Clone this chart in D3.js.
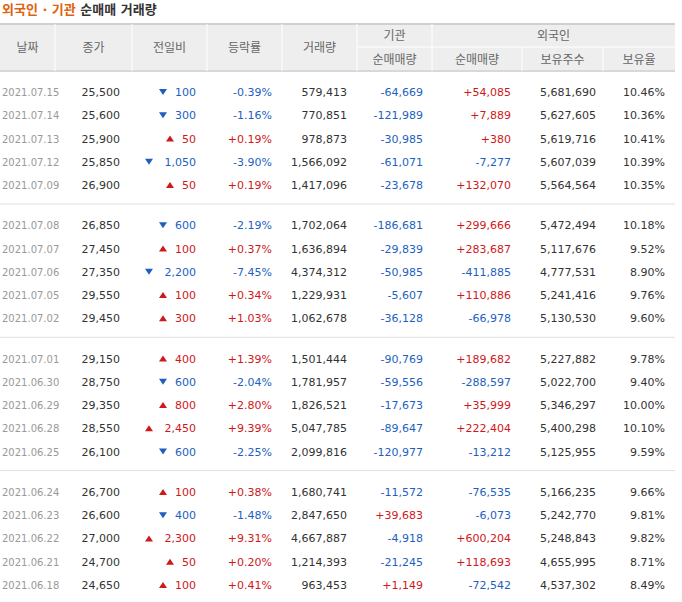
<!DOCTYPE html><html><head><meta charset="utf-8"><script src="https://cdn.jsdelivr.net/npm/d3@7"></script>
<style>body{margin:0;background:#fff}text{font-family:"DejaVu Sans","Noto Sans CJK KR",sans-serif}</style></head><body><svg id="c" width="682" height="602"></svg><script>
const dates=["2021.07.15","2021.07.14","2021.07.13","2021.07.12","2021.07.09","2021.07.08","2021.07.07","2021.07.06","2021.07.05","2021.07.02","2021.07.01","2021.06.30","2021.06.29","2021.06.28","2021.06.25","2021.06.24","2021.06.23","2021.06.22","2021.06.21","2021.06.18"];
const closes=[25500,25600,25900,25850,26900,26850,27450,27350,29550,29450,29150,28750,29350,28550,26100,26700,26600,27000,24700,24650];
const changes=[-100,-300,50,-1050,50,-600,100,-2200,100,300,400,-600,800,2450,-600,100,-400,2300,50,100];
const rates=[-0.39,-1.16,0.19,-3.90,0.19,-2.19,0.37,-7.45,0.34,1.03,1.39,-2.04,2.80,9.39,-2.25,0.38,-1.48,9.31,0.20,0.41];
const volumes=[579413,770851,978873,1566092,1417096,1702064,1636894,4374312,1229931,1062678,1501444,1781957,1826521,5047785,2099816,1680741,2847650,4667887,1214393,963453];
const instNet=[-64669,-121989,-30985,-61071,-23678,-186681,-29839,-50985,-5607,-36128,-90769,-59556,-17673,-89647,-120977,-11572,39683,-4918,-21245,1149];
const foreignNet=[54085,7889,380,-7277,132070,299666,283687,-411885,110886,-66978,189682,-288597,35999,222404,-13212,-76535,-6073,600204,118693,-72542];
const holdings=[5681690,5627605,5619716,5607039,5564564,5472494,5117676,4777531,5241416,5130530,5227882,5022700,5346297,5400298,5125955,5166235,5242770,5248843,4655995,4537302];
const holdRatio=[10.46,10.36,10.41,10.39,10.35,10.18,9.52,8.90,9.76,9.60,9.78,9.40,10.00,10.10,9.59,9.66,9.81,9.82,8.71,8.49];
const headers=["날짜","종가","전일비","등락률","거래량"];
const subHeaders=["순매매량","순매매량","보유주수","보유율"];

const svg=d3.select("#c");
const edges=[0,55,132,207,282,357,432,522,603,675];
const RED="#d0181a",BLUE="#1e5fbf";
const fmt=v=>d3.format(",")(v).replace("−","-");
const sgn=v=>(v>0?"+":"")+fmt(v);
const t=svg.append("text").attr("x",2).attr("y",14).attr("font-size",13).attr("font-weight","bold");
t.append("tspan").attr("fill","#e0620f").text("외국인 · 기관");
t.append("tspan").attr("fill","#333").text(" 순매매 거래량");
svg.append("rect").attr("x",0).attr("y",24).attr("width",675).attr("height",47).attr("fill","#eeeeee");
svg.append("line").attr("x1",0).attr("x2",675).attr("y1",24).attr("y2",24).attr("stroke","#cfcfcf").attr("stroke-width",2);
svg.append("line").attr("x1",0).attr("x2",675).attr("y1",71).attr("y2",71).attr("stroke","#d8d8d8").attr("stroke-width",2);
svg.append("line").attr("x1",357).attr("x2",675).attr("y1",47).attr("y2",47).attr("stroke","#fff");
[55,132,207,282,357,603].forEach(x=>svg.append("line").attr("x1",x).attr("x2",x).attr("y1",x==603?47:24).attr("y2",71).attr("stroke","#fff"));
[432,522].forEach(x=>svg.append("line").attr("x1",x).attr("x2",x).attr("y1",x==432?24:47).attr("y2",71).attr("stroke","#fff"));
const hc="#666";
headers.forEach((h,i)=>svg.append("text").attr("x",(edges[i]+edges[i+1])/2).attr("y",52).attr("text-anchor","middle").attr("font-size",12).attr("fill",hc).text(h));
svg.append("text").attr("x",(357+432)/2).attr("y",40).attr("text-anchor","middle").attr("font-size",12).attr("fill",hc).text("기관");
svg.append("text").attr("x",(432+675)/2).attr("y",40).attr("text-anchor","middle").attr("font-size",12).attr("fill",hc).text("외국인");
subHeaders.forEach((h,i)=>svg.append("text").attr("x",(edges[i+5]+edges[i+6])/2).attr("y",64).attr("text-anchor","middle").attr("font-size",12).attr("fill",hc).text(h));
const idx=d3.range(dates.length);
const y=i=>d3.scaleLinear().domain([0,4]).range([92,185])(i%5)+Math.floor(i/5)*133.3;
[0,1,2].forEach(g=>svg.append("line").attr("x1",0).attr("x2",675).attr("y1",204+g*133.3).attr("y2",204+g*133.3).attr("stroke","#e0e0e0"));
const rows=svg.selectAll("g.r").data(idx).join("g").attr("transform",i=>`translate(0,${y(i)+4})`).attr("font-size",11);
rows.append("text").attr("x",2).attr("fill","#999").attr("font-size",10).text(i=>dates[i]);
rows.append("text").attr("x",120).attr("text-anchor","end").attr("fill","#333").text(i=>fmt(closes[i]));
rows.append("text").attr("x",196).attr("text-anchor","end").attr("fill",i=>changes[i]>0?RED:BLUE).text(i=>fmt(Math.abs(changes[i])));
rows.append("path").attr("transform",i=>`translate(${196-fmt(Math.abs(changes[i])).length*7-12},-4)`).attr("d",i=>changes[i]>0?"M-4,3L0,-3L4,3Z":"M-4,-3L4,-3L0,3Z").attr("fill",i=>changes[i]>0?RED:BLUE);
rows.append("text").attr("x",272).attr("text-anchor","end").attr("fill",i=>rates[i]>0?RED:BLUE).text(i=>(rates[i]>0?"+":"")+rates[i].toFixed(2)+"%");
rows.append("text").attr("x",347).attr("text-anchor","end").attr("fill","#333").text(i=>fmt(volumes[i]));
rows.append("text").attr("x",423).attr("text-anchor","end").attr("fill",i=>instNet[i]>0?RED:BLUE).text(i=>sgn(instNet[i]));
rows.append("text").attr("x",511).attr("text-anchor","end").attr("fill",i=>foreignNet[i]>0?RED:BLUE).text(i=>sgn(foreignNet[i]));
rows.append("text").attr("x",596).attr("text-anchor","end").attr("fill","#333").text(i=>fmt(holdings[i]));
rows.append("text").attr("x",665).attr("text-anchor","end").attr("fill","#333").text(i=>holdRatio[i].toFixed(2)+"%");
</script></body></html>
